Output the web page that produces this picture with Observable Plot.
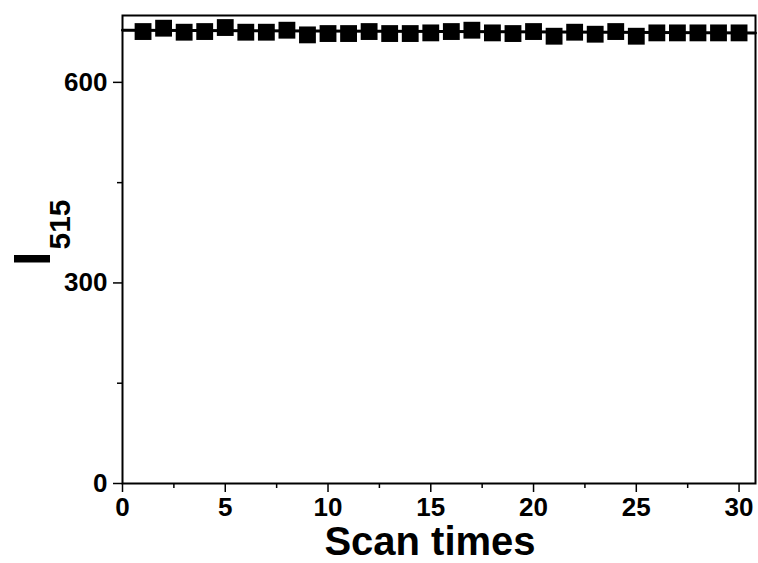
<!DOCTYPE html>
<html>
<head>
<meta charset="utf-8">
<script src="https://cdn.jsdelivr.net/npm/d3@7"></script>
<script src="https://cdn.jsdelivr.net/npm/@observablehq/plot@0.6"></script>
<style>
  html, body { margin: 0; padding: 0; background: #fff; }
  #chart svg { display: block; }
  #chart svg g[aria-label$="tick label"] text { font-size: 26px; font-weight: bold; }
</style>
</head>
<body>
<div id="chart"></div>
<script>
const scanTimes = [1,2,3,4,5,6,7,8,9,10,11,12,13,14,15,16,17,18,19,20,21,22,23,24,25,26,27,28,29,30];
const intensity = [676,681,675,676,682,675,675,678,671,673,673,676,673,673,674,676,678,674,673,676,669,675,672,676,669,674,674,674,674,674];
const fitX = [0, 30.8];
const fitY = [678, 674];
const xMajorTicks = [0,5,10,15,20,25,30];
const xMinorTicks = [2.5,7.5,12.5,17.5,22.5,27.5];
const yMajorTicks = [0,300,600];
const yMinorTicks = [150,450];

const points = scanTimes.map((s, i) => ({s, v: intensity[i]}));
const fit = fitX.map((x, i) => ({x, y: fitY[i]}));

const font = "'Liberation Sans', Arial, sans-serif";

const chart = Plot.plot({
  width: 758,
  height: 563,
  marginLeft: 122,
  marginRight: 3,
  marginTop: 15,
  marginBottom: 80,
  style: {fontFamily: font, fontWeight: "bold", color: "#000", background: "#fff"},
  x: {domain: [0, 30.8]},
  y: {domain: [0, 700]},
  marks: [
    Plot.frame({stroke: "#000", strokeWidth: 2}),
    Plot.axisX({ticks: xMajorTicks, tickSize: 9, tickPadding: 5, tickFormat: d => String(d), label: null, strokeWidth: 1.5}),
    Plot.axisX({ticks: xMinorTicks, tickSize: 5, tickFormat: () => "", label: null, strokeWidth: 1.5}),
    Plot.axisY({ticks: yMajorTicks, tickSize: 9, tickPadding: 6, tickFormat: d => String(d), label: null, strokeWidth: 1.5}),
    Plot.axisY({ticks: yMinorTicks, tickSize: 5, tickFormat: () => "", label: null, strokeWidth: 1.5}),
    Plot.line(fit, {x: "x", y: "y", stroke: "#000", strokeWidth: 3}),
    Plot.dot(points, {x: "s", y: "v", symbol: "square", r: 9.5, fill: "#000", stroke: "none"})
  ]
});

const svg = d3.select(chart);
svg.append("text")
  .attr("x", 430)
  .attr("y", 555)
  .attr("text-anchor", "middle")
  .style("font-family", font)
  .style("font-weight", "bold")
  .style("font-size", "40px")
  .attr("fill", "#000")
  .text("Scan times");

const yl = svg.append("text")
  .attr("transform", "translate(50,266) rotate(-90)")
  .attr("text-anchor", "start")
  .style("font-family", font)
  .style("font-weight", "bold")
  .attr("fill", "#000");
yl.append("tspan").style("font-size", "52px").text("I");
yl.append("tspan").style("font-size", "30px").attr("dx", 2).attr("dy", 20).text("515");

document.getElementById("chart").appendChild(chart);
</script>
</body>
</html>
